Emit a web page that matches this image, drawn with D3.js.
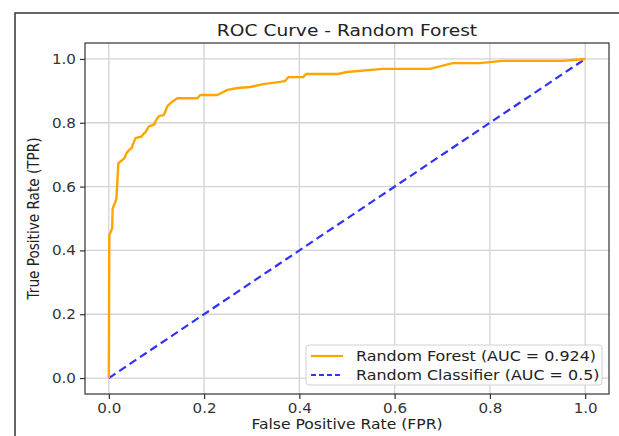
<!DOCTYPE html>
<html lang="en">
<head>
<meta charset="UTF-8">
<title>ROC Curve - Random Forest</title>
<style>
  body { margin: 0; background: #fff; }
  svg { display: block; }
  text { font-family: "DejaVu Sans", sans-serif; fill: #222; }
</style>
<script src="https://d3js.org/d3.v7.min.js"></script>
</head>
<body>
<div class="graph"></div>
<script>
  // ROC curve points
  const fpr = [0, 0.001, 0.007, 0.008, 0.015, 0.016, 0.020, 0.033, 0.036, 0.042, 0.048, 0.050, 0.056, 0.069, 0.072, 0.077,
    0.084, 0.096, 0.098, 0.105, 0.115, 0.117, 0.123, 0.132, 0.144, 0.186, 0.192, 0.228, 0.249, 0.270, 0.297,
    0.324, 0.360, 0.370, 0.377, 0.408, 0.414, 0.481, 0.500, 0.575, 0.674, 0.722, 0.778, 0.826, 0.952, 1]
  const tpr = [0, 0.447, 0.469, 0.531, 0.557, 0.566, 0.673, 0.689, 0.702, 0.714, 0.721, 0.730, 0.752, 0.757, 0.764, 0.770,
    0.789, 0.795, 0.805, 0.821, 0.824, 0.830, 0.852, 0.865, 0.877, 0.877, 0.887, 0.887, 0.903, 0.909, 0.912,
    0.921, 0.928, 0.931, 0.943, 0.943, 0.953, 0.953, 0.959, 0.969, 0.969, 0.987, 0.987, 0.994, 0.994, 1]
  const diagX = [0, 1]
  const diagY = [0, 1]
  const ticks = [0, 0.2, 0.4, 0.6, 0.8, 1.0]
  const legendLabels = ['Random Forest (AUC = 0.924)', 'Random Classifier (AUC = 0.5)']

  const W = 619, H = 436
  const margin = { left: 85, right: 10, top: 43, bottom: 42 }
  const sx = 1.13 // picture is stretched sideways a bit

  const svg = d3.select('.graph').append('svg')
    .attr('width', W).attr('height', H)

  // outer frame around the figure
  svg.append('path')
    .attr('d', `M15 ${H} V13 H${W}`)
    .attr('fill', 'none').attr('stroke', '#333').attr('stroke-width', 1.5)

  const x = d3.scaleLinear().domain([-0.05, 1.05]).range([margin.left, W - margin.right])
  const y = d3.scaleLinear().domain([-0.05, 1.05]).range([H - margin.bottom, margin.top])

  const stretched = (sel, px, py, rot) =>
    sel.attr('transform', `translate(${px},${py}) scale(${sx},1)` + (rot ? ` rotate(${rot})` : ''))

  // grid
  const grid = svg.append('g')
  grid.selectAll('.gx').data(ticks).join('line')
    .attr('x1', d => x(d)).attr('x2', d => x(d))
    .attr('y1', y(-0.05)).attr('y2', y(1.05))
    .attr('stroke', '#d3d3d3').attr('stroke-width', 1.3)
  grid.selectAll('.gy').data(ticks).join('line')
    .attr('y1', d => y(d)).attr('y2', d => y(d))
    .attr('x1', x(-0.05)).attr('x2', x(1.05))
    .attr('stroke', '#d3d3d3').attr('stroke-width', 1.3)

  // axes
  const xAxis = svg.append('g')
    .attr('transform', `translate(0, ${H - margin.bottom})`)
    .call(d3.axisBottom(x).tickValues(ticks).tickFormat(d3.format('.1f')).tickSize(5).tickPadding(4))
  const yAxis = svg.append('g')
    .attr('transform', `translate(${margin.left}, 0)`)
    .call(d3.axisLeft(y).tickValues(ticks).tickFormat(d3.format('.1f')).tickSize(5).tickPadding(4))
  for (const ax of [xAxis, yAxis]) {
    ax.select('.domain').remove()
    ax.selectAll('line').attr('stroke', '#333').attr('stroke-width', 1.2)
    ax.selectAll('text').attr('font-size', 13.4).style('fill', '#333')
      .attr('font-family', '"DejaVu Sans", sans-serif')
  }
  xAxis.selectAll('.tick text').attr('y', 0).attr('dy', 0)
    .attr('transform', `translate(0, 19) scale(${sx},1)`)
  yAxis.selectAll('.tick text').attr('x', 0).attr('dy', 0)
    .attr('transform', `translate(-9, 4.5) scale(${sx},1)`)

  // lines
  const line = d3.line().x(d => x(d[0])).y(d => y(d[1]))
  svg.append('path')
    .datum(d3.zip(diagX, diagY))
    .attr('d', line)
    .attr('fill', 'none').attr('stroke', '#3030ff').attr('stroke-width', 2.2)
    .attr('stroke-dasharray', '8,4.5')
  svg.append('path')
    .datum(d3.zip(fpr, tpr))
    .attr('d', line)
    .attr('fill', 'none').attr('stroke', '#ffa500').attr('stroke-width', 2.4)
    .attr('stroke-linejoin', 'round')

  // spines
  svg.append('rect')
    .attr('x', x(-0.05)).attr('y', y(1.05))
    .attr('width', x(1.05) - x(-0.05)).attr('height', y(-0.05) - y(1.05))
    .attr('fill', 'none').attr('stroke', '#333').attr('stroke-width', 1.2)

  // legend
  const leg = svg.append('g')
  leg.append('rect')
    .attr('x', 306).attr('y', 345).attr('width', 296).attr('height', 40).attr('rx', 3)
    .attr('fill', 'rgba(255,255,255,0.85)').attr('stroke', '#d0d0d0')
  const legStyles = [{ c: '#ffa500', dash: null }, { c: '#3030ff', dash: '5,3' }]
  legendLabels.forEach((t, i) => {
    const ly = 356 + i * 19
    leg.append('line')
      .attr('x1', 311).attr('x2', 343).attr('y1', ly).attr('y2', ly)
      .attr('stroke', legStyles[i].c).attr('stroke-width', 2.2)
      .attr('stroke-dasharray', legStyles[i].dash)
    stretched(leg.append('text').text(t).attr('font-size', 14.1), 356, ly + 5)
  })

  // titles
  stretched(svg.append('text').text('ROC Curve - Random Forest')
    .attr('font-size', 16.5).attr('text-anchor', 'middle'), x(0.5), 36)
  stretched(svg.append('text').text('False Positive Rate (FPR)')
    .attr('font-size', 13.8).attr('text-anchor', 'middle'), x(0.5), 429)
  stretched(svg.append('text').text('True Positive Rate (TPR)')
    .attr('font-size', 13.6).attr('text-anchor', 'middle'), 39, y(0.5), -90)
</script>
</body>
</html>
